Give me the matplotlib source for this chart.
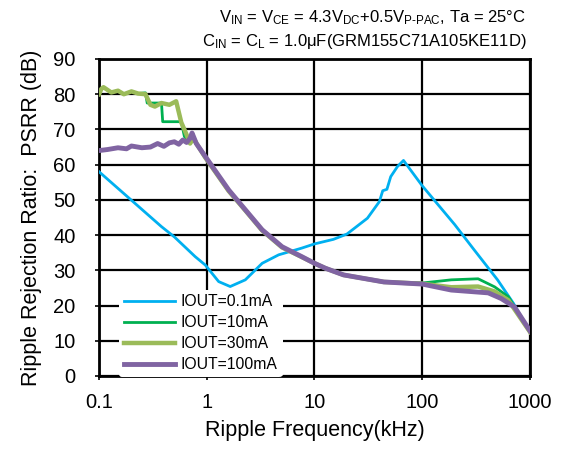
import matplotlib
matplotlib.use("Agg")
from matplotlib import pyplot as plt
from matplotlib.ticker import FixedLocator, NullLocator

plt.rcParams['font.family'] = ['Liberation Sans', 'DejaVu Sans']
plt.rcParams['mathtext.fontset'] = 'custom'
plt.rcParams['mathtext.rm'] = 'Liberation Sans'
plt.rcParams['mathtext.it'] = 'Liberation Sans'

# ===== data (kHz, dB) =====
f_01 = [0.1, 0.19, 0.38, 0.5, 0.78, 0.97, 1.29, 1.65, 2.28, 3.27, 4.65, 7.6, 10, 15, 20,
        31, 40, 43, 47, 51, 59, 67, 100, 200, 300, 500, 700, 1000]
psrr_01 = [58, 50.5, 42.4, 39.5, 33.9, 31.5, 26.8, 25.4, 27.3, 32, 34.4, 36.3, 37.5, 38.8, 40.3,
           44.8, 49.5, 52.6, 53, 56.6, 59.5, 61.2, 54, 43, 36, 27.3, 20.7, 12.5]

f_10 = [0.1, 0.105, 0.11, 0.13, 0.15, 0.17, 0.2, 0.23, 0.27, 0.28, 0.3, 0.38, 0.39, 0.58, 0.62,
        0.7, 0.75, 0.97, 1.6, 2.28, 3.27, 5.0, 7.6, 10, 12.6, 18.6, 44, 100, 186, 330, 470, 630,
        1000]
psrr_10 = [80, 81.5, 82, 80.5, 81, 80, 80.8, 80.2, 80.4, 77.5, 77.5, 77.5, 72.2, 72.2, 68,
           66, 67, 62.3, 52.8, 47.2, 41.5, 36.7, 33.9, 32, 30.6, 28.7, 26.7, 26.4, 27.3, 27.6,
           25.3, 22.5, 12.5]

f_30 = [0.1, 0.105, 0.11, 0.13, 0.15, 0.17, 0.2, 0.23, 0.27, 0.3, 0.33, 0.38, 0.45, 0.52, 0.58,
        0.64, 0.7, 0.75, 0.97, 1.6, 2.28, 3.27, 5.0, 7.6, 10, 12.6, 18.6, 44, 100, 186, 330,
        470, 630, 1000]
psrr_30 = [80, 81.5, 82, 80.5, 81, 80, 80.8, 80.2, 80, 77, 76.5, 77.5, 77, 78, 72, 69, 66,
           67.5, 62, 52.5, 47, 41.3, 36.5, 33.8, 32, 30.6, 28.7, 26.7, 26.2, 25.2, 25.4, 24,
           21.5, 12.5]

f_100 = [0.1, 0.12, 0.15, 0.18, 0.2, 0.25, 0.3, 0.35, 0.4, 0.45, 0.5, 0.55, 0.6, 0.65, 0.7,
         0.73, 0.8, 0.97, 1.6, 2.28, 3.27, 5.0, 7.6, 10, 12.6, 18.6, 44, 100, 186, 410, 540,
         718, 1000]
psrr_100 = [64, 64.3, 64.8, 64.5, 65.3, 64.8, 65, 66, 65.2, 66.2, 66.5, 65.8, 67, 66.3, 67.5,
            69, 66, 62.3, 52.8, 47.2, 41.5, 36.7, 33.9, 32, 30.6, 28.7, 26.7, 26.1, 24.4, 23.6,
            22, 19.6, 12.8]

x_ticks = [0.1, 1, 10, 100, 1000]
x_tick_labels = ['0.1', '1', '10', '100', '1000']
y_ticks = list(range(0, 91, 10))

fig = plt.figure(figsize=(5.61, 4.49), dpi=100)
ax = fig.add_axes([0.1765, 0.1626, 0.7682, 0.706])

ax.plot(f_01, psrr_01, color='#00B0F0', lw=2.0, label='IOUT=0.1mA', zorder=3)
ax.plot(f_10, psrr_10, color='#00B050', lw=2.0, label='IOUT=10mA', zorder=4)
ax.plot(f_30, psrr_30, color='#9BBB59', lw=3.2, label='IOUT=30mA', zorder=5)
ax.plot(f_100, psrr_100, color='#8064A2', lw=3.5, label='IOUT=100mA', zorder=6)

ax.set_xscale('log')
ax.set_xlim(0.1, 1000)
ax.set_ylim(0, 90)
ax.xaxis.set_major_locator(FixedLocator(x_ticks))
ax.xaxis.set_minor_locator(NullLocator())
ax.set_xticklabels(x_tick_labels)
ax.set_yticks(y_ticks)

ax.grid(True, color='black', lw=1.6)
for s in ax.spines.values():
    s.set_linewidth(2.0)
ax.tick_params(axis='both', which='major', labelsize=14.5, direction='out', length=3,
               width=1.2)
ax.tick_params(axis='x', pad=9)
ax.tick_params(axis='y', pad=14)

ax.set_xlabel('Ripple Frequency(kHz)', fontsize=15.5, labelpad=6)
ax.set_ylabel('Ripple Rejection Ratio:  PSRR (dB)', fontsize=15.5, labelpad=8)

leg = ax.legend(loc='upper left', bbox_to_anchor=(0.028, 0.297), fontsize=11.3, frameon=True,
                handlelength=3.3, labelspacing=0.38, borderpad=0.3, handletextpad=0.35)
leg.get_frame().set_edgecolor('none')
leg.get_frame().set_facecolor('white')
leg.get_frame().set_alpha(1.0)
leg.set_zorder(10)

fig.text(0.938, 0.96, r'V$_{\mathrm{IN}}$ = V$_{\mathrm{CE}}$ = 4.3V$_{\mathrm{DC}}$'
         r'+0.5V$_{\mathrm{P‐PAC}}$, Ta = 25°C',
         ha='right', va='center', fontsize=12)
fig.text(0.938, 0.907, r'C$_{\mathrm{IN}}$ = C$_{\mathrm{L}}$ = 1.0μF(GRM155C71A105KE11D)',
         ha='right', va='center', fontsize=12)

fig.savefig('out.png', dpi=100)
